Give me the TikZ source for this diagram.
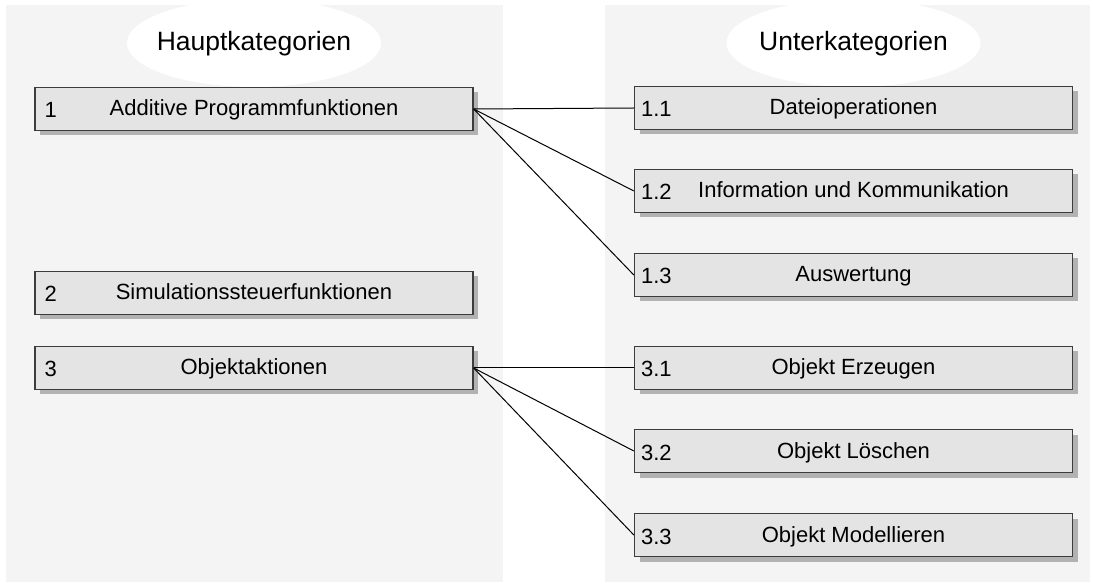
\documentclass[tikz,border=0pt]{standalone}
\usepackage{fontspec}
\setmainfont{Liberation Sans}
\usetikzlibrary{shadows,shapes.geometric}
\definecolor{panelgray}{HTML}{F4F4F4}
\definecolor{boxgray}{HTML}{E4E4E4}
\definecolor{edgegray}{HTML}{3C3C3C}
\definecolor{shadegray}{HTML}{B2B2B2}
\tikzset{
  panel/.style={fill=panelgray, draw=none},
  header/.style={ellipse, fill=white, draw=none, minimum width=254pt, minimum height=88pt, inner sep=0pt},
  headtext/.style={font=\fontsize{26.5}{26.5}\selectfont, anchor=base, inner sep=0pt},
  catbox/.style={rectangle, fill=boxgray, draw=edgegray, line width=1.3pt,
    minimum width=438pt, minimum height=43pt, inner sep=0pt,
    drop shadow={shadow xshift=5pt, shadow yshift=-5pt, fill=shadegray, opacity=1}},
  boxtext/.style={font=\fontsize{22}{22}\selectfont, anchor=base, inner sep=0pt},
  numtext/.style={font=\fontsize{22}{22}\selectfont, anchor=base west, inner sep=0pt},
  link/.style={draw=black, line width=1pt}
}
\newcommand{\catitem}[6]{%
  \node[catbox] (#1) at (#2,#3) {};
  \node[boxtext] (#1-t) at ([yshift=-7pt]#1.center) {#5};
  \node[numtext] (#1-n) at ([xshift=#6pt, yshift=-9pt]#1.west) {#4};
}
\begin{document}
\begin{tikzpicture}[x=1pt, y=-1pt]
  \useasboundingbox (0,0) rectangle (1093,585);
  \fill[white] (0,0) rectangle (1093,585);
  % column backgrounds
  \path[panel] (6,5) rectangle (503,582);
  \path[panel] (605,5) rectangle (1090,582);
  % column headers
  \node[header] (hl) at (254,43) {};
  \node[header] (hr) at (853.5,43) {};
  \node[headtext] (hlt) at (254,51) {Hauptkategorien};
  \node[headtext] (hrt) at (853.5,51) {Unterkategorien};
  % main categories
  \catitem{b1}{254}{109}{1}{Additive Programmfunktionen}{10}
  \catitem{b2}{254}{293}{2}{Simulationssteuerfunktionen}{10}
  \catitem{b3}{254}{368}{3}{Objektaktionen}{10}
  % sub categories
  \catitem{b11}{853.5}{108}{1.1}{Dateioperationen}{7}
  \catitem{b12}{853.5}{191}{1.2}{Information und Kommunikation}{7}
  \catitem{b13}{853.5}{275}{1.3}{Auswertung}{7}
  \catitem{b31}{853.5}{368}{3.1}{Objekt Erzeugen}{7}
  \catitem{b32}{853.5}{451}{3.2}{Objekt Löschen}{7}
  \catitem{b33}{853.5}{535}{3.3}{Objekt Modellieren}{7}
  % connections
  \draw[link] (b1.east) -- (b11.west);
  \draw[link] (b1.east) -- (b12.west);
  \draw[link] (b1.east) -- (b13.west);
  \draw[link] (b3.east) -- (b31.west);
  \draw[link] (b3.east) -- (b32.west);
  \draw[link] (b3.east) -- (b33.west);
\end{tikzpicture}
\end{document}
